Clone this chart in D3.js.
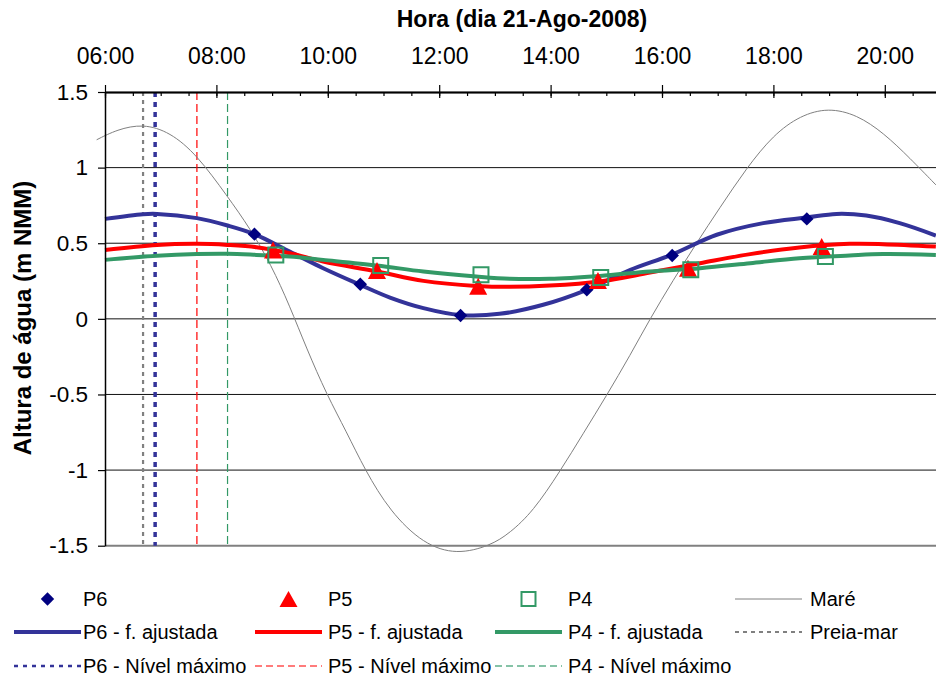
<!DOCTYPE html>
<html><head><meta charset="utf-8">
<script src="https://cdn.jsdelivr.net/npm/d3@7"></script>
<style>
body{margin:0;background:#fff}
svg{display:block;font-family:Arial,"Liberation Sans",sans-serif}
</style>
</head><body>
<svg id="chart" width="936" height="682"></svg>
<script>
// ---------------- data ----------------
const xTickLabels = ["06:00","08:00","10:00","12:00","14:00","16:00","18:00","20:00"];
const yTickValues = [1.5, 1, 0.5, 0, -0.5, -1, -1.5];
const yGridValues = [1, 0.5, 0, -0.5, -1];

// observed points
const p6Times = ["08:41","10:35","12:23","14:39","16:11","18:36"];
const p6Values = [0.560, 0.229, 0.022, 0.192, 0.419, 0.661];
const p5Times = ["09:01","10:53","12:42","14:51","16:28","18:52"];
const p5Values = [0.456, 0.320, 0.216, 0.253, 0.335, 0.478];
const p4Times = ["09:04","10:57","12:45","14:54","16:31","18:56"];
const p4Values = [0.423, 0.353, 0.291, 0.273, 0.324, 0.412];

// fitted curves
const p6FitTimes = ["06:00","06:41","06:56","07:39","08:12","08:41","09:19","09:55","10:35","11:07","11:43","12:22","13:05","13:52","14:39","15:26","16:10","16:59","17:49","18:36","19:08","19:40","20:16","20:55"];
const p6FitValues = [0.661,0.692,0.694,0.666,0.617,0.560,0.445,0.335,0.225,0.141,0.071,0.026,0.033,0.093,0.192,0.324,0.423,0.556,0.633,0.670,0.694,0.683,0.633,0.551];
const p45FitTimes = ["06:00","06:56","07:39","08:12","08:43","09:19","09:55","10:53","11:43","12:40","13:16","13:59","14:53","15:47","16:41","17:35","18:28","19:22","19:58","20:55"];
const p5FitValues = [0.456,0.489,0.496,0.489,0.474,0.434,0.379,0.313,0.251,0.218,0.212,0.220,0.247,0.306,0.368,0.428,0.472,0.496,0.494,0.478];
const p4FitValues = [0.390,0.417,0.428,0.430,0.423,0.412,0.390,0.353,0.313,0.280,0.265,0.265,0.284,0.313,0.335,0.368,0.401,0.419,0.428,0.423];

// tide (Maré)
const mareTimes = ["05:51","06:13","06:41","07:10","07:39","08:12","08:36","08:59","09:19","09:37","09:59","10:20","10:40","11:07","11:43","12:19","12:55","13:16","13:41","14:10","14:35","15:00","15:26","15:47","16:12","16:37","17:02","17:31","18:00","18:29","18:59","19:30","19:59","20:27","20:55"];
const mareValues = [1.184,1.252,1.290,1.235,1.085,0.809,0.600,0.357,0.085,-0.194,-0.503,-0.745,-0.999,-1.274,-1.490,-1.560,-1.500,-1.417,-1.274,-1.010,-0.760,-0.510,-0.238,0.000,0.255,0.500,0.732,0.997,1.217,1.345,1.396,1.350,1.228,1.063,0.886];

// vertical reference times
const preiaMarTime = "06:41";
const p6MaxTime = "06:54";
const p5MaxTime = "07:39";
const p4MaxTime = "08:12";

const legendLabels = ["P6","P5","P4","Maré","P6 - f. ajustada","P5 - f. ajustada","P4 - f. ajustada","Preia-mar","P6 - Nível máximo","P5 - Nível máximo","P4 - Nível máximo"];

// ---------------- drawing ----------------
const parse = d3.timeParse("%Y-%m-%d %H:%M");
const T = s => parse("2008-08-21 " + s);

const svg = d3.select("#chart");
const L = 105, R = 940.5, TOP = 92, BOT = 545.7;
const x = d3.scaleTime().domain([T("06:00"), T("21:00")]).range([L, R]);
const y = d3.scaleLinear().domain([-1.5, 1.5]).range([BOT, TOP]);

const C = {p6line:"#333399", p6mark:"#000080", red:"#ff0000", green:"#339966", gray:"#808080"};
const FONT = "Arial, 'Liberation Sans', sans-serif";

// gridlines
svg.append("g").selectAll("line").data(yGridValues).join("line")
  .attr("x1", L).attr("x2", 936).attr("y1", d => y(d)).attr("y2", d => y(d))
  .attr("stroke", "#111").attr("stroke-width", 1);
// bottom border
svg.append("line").attr("x1", L).attr("x2", 936).attr("y1", y(-1.5)).attr("y2", y(-1.5))
  .attr("stroke", C.gray).attr("stroke-width", 2);

// vertical reference lines
const vlines = [
  {t: preiaMarTime, c: C.gray, w: 2.2, d: "4,4"},
  {t: p6MaxTime, c: C.p6line, w: 3.5, d: "5,5"},
  {t: p5MaxTime, c: C.red, w: 1.2, d: "8,4"},
  {t: p4MaxTime, c: C.green, w: 1.2, d: "8,4"}
];
svg.append("g").selectAll("line").data(vlines).join("line")
  .attr("x1", d => x(T(d.t))).attr("x2", d => x(T(d.t)))
  .attr("y1", y(1.5)).attr("y2", y(-1.5))
  .attr("stroke", d => d.c).attr("stroke-width", d => d.w).attr("stroke-dasharray", d => d.d);

// tide
const mare = mareTimes.map((t, i) => ({t: T(t), v: mareValues[i]}));
const mareGen = d3.line().x(d => x(d.t)).y(d => y(d.v)).curve(d3.curveBasis);
svg.append("path").datum(mare).attr("d", mareGen)
  .attr("fill", "none").attr("stroke", C.gray).attr("stroke-width", 1);

// fitted curves
const lineGen = d3.line().x(d => x(d.t)).y(d => y(d.v)).curve(d3.curveCatmullRom.alpha(0.5));
const fits = [
  {times: p6FitTimes, vals: p6FitValues, c: C.p6line},
  {times: p45FitTimes, vals: p5FitValues, c: C.red},
  {times: p45FitTimes, vals: p4FitValues, c: C.green}
];
fits.forEach(f => {
  svg.append("path").datum(f.times.map((t, i) => ({t: T(t), v: f.vals[i]})))
    .attr("d", lineGen).attr("fill", "none").attr("stroke", f.c)
    .attr("stroke-width", 4).attr("stroke-linejoin", "round");
});

// marker shapes
const diamondPath = d3.symbol().type(d3.symbolSquare).size(90)();
const triPath = (w, h) => `M0,${-h/2}L${w/2},${h/2}L${-w/2},${h/2}Z`;
const squarePath = d3.symbol().type(d3.symbolSquare).size(225)();

svg.append("g").selectAll("path").data(p6Times.map((t, i) => ({t: T(t), v: p6Values[i]}))).join("path")
  .attr("d", diamondPath)
  .attr("transform", d => `translate(${x(d.t)},${y(d.v)}) rotate(45)`)
  .attr("fill", C.p6mark);
svg.append("g").selectAll("path").data(p5Times.map((t, i) => ({t: T(t), v: p5Values[i]}))).join("path")
  .attr("d", triPath(18, 17))
  .attr("transform", d => `translate(${x(d.t)},${y(d.v)})`)
  .attr("fill", C.red);
svg.append("g").selectAll("path").data(p4Times.map((t, i) => ({t: T(t), v: p4Values[i]}))).join("path")
  .attr("d", squarePath)
  .attr("transform", d => `translate(${x(d.t)},${y(d.v)})`)
  .attr("fill", "none").attr("stroke", C.green).attr("stroke-width", 2);

// axes
const majorDates = xTickLabels.map(T);
const fmt = d3.timeFormat("%H:%M");
const xMinor = d3.axisTop(x).ticks(d3.timeMinute.every(30)).tickSizeInner(-4).tickSizeOuter(0).tickFormat("");
const xMajorDown = d3.axisTop(x).tickValues(majorDates).tickSizeInner(-6).tickSizeOuter(0).tickFormat("");
const xMajor = d3.axisTop(x).tickValues(majorDates).tickSizeInner(7).tickSizeOuter(0).tickPadding(21).tickFormat(fmt);
[xMinor, xMajorDown, xMajor].forEach(a => {
  const g = svg.append("g").attr("transform", `translate(0,${TOP})`).call(a);
  g.select(".domain").attr("stroke", "#000").attr("stroke-width", 1.5);
  g.selectAll(".tick line").attr("stroke", "#000").attr("stroke-width", 1.2);
  g.selectAll("text").attr("font-size", 23).attr("fill", "#000").attr("font-family", FONT);
});

const yAxis = d3.axisLeft(y).tickValues(yTickValues).tickSizeInner(7).tickSizeOuter(0).tickPadding(10).tickFormat(d => String(d));
const gy = svg.append("g").attr("transform", `translate(${L},0)`).call(yAxis);
gy.select(".domain").attr("stroke", "#000").attr("stroke-width", 1.5);
gy.selectAll(".tick line").attr("stroke", "#000").attr("stroke-width", 1.2);
gy.selectAll("text").attr("font-size", 22.5).attr("fill", "#000").attr("font-family", FONT);

// titles
svg.append("text").attr("x", 522).attr("y", 27).attr("text-anchor", "middle")
  .attr("font-size", 23).attr("font-weight", "bold").text("Hora (dia 21-Ago-2008)");
svg.append("text").attr("transform", "translate(31,318) rotate(-90)").attr("text-anchor", "middle")
  .attr("font-size", 24).attr("font-weight", "bold").text("Altura de água (m NMM)");

// legend
const colLine = [14, 255, 495, 735];
const colText = [83, 328, 568, 810];
const rowY = [599, 632, 666];
const lineLen = 67;
const leg = svg.append("g").attr("font-size", 20);
const legendItems = [
  {r:0,c:0,type:"diamond"},{r:0,c:1,type:"tri"},{r:0,c:2,type:"square"},{r:0,c:3,type:"line",stroke:C.gray,w:1},
  {r:1,c:0,type:"line",stroke:C.p6line,w:4},{r:1,c:1,type:"line",stroke:C.red,w:4},{r:1,c:2,type:"line",stroke:C.green,w:4},{r:1,c:3,type:"line",stroke:C.gray,w:2,d:"4,4"},
  {r:2,c:0,type:"line",stroke:C.p6line,w:2.5,d:"4,5"},{r:2,c:1,type:"line",stroke:"#ff5050",w:1.3,d:"7,4"},{r:2,c:2,type:"line",stroke:"#5fb08a",w:1.3,d:"7,4"}
];
legendItems.forEach((it, i) => {
  const x0 = colLine[it.c], yy = rowY[it.r], cx = x0 + lineLen / 2;
  if (it.type === "line") {
    leg.append("line").attr("x1", x0).attr("x2", x0 + lineLen).attr("y1", yy).attr("y2", yy)
      .attr("stroke", it.stroke).attr("stroke-width", it.w).attr("stroke-dasharray", it.d || null);
  } else if (it.type === "diamond") {
    leg.append("path").attr("d", diamondPath).attr("transform", `translate(${cx},${yy}) rotate(45)`).attr("fill", C.p6mark);
  } else if (it.type === "tri") {
    leg.append("path").attr("d", triPath(18, 16)).attr("transform", `translate(${cx},${yy})`).attr("fill", C.red);
  } else {
    leg.append("path").attr("d", d3.symbol().type(d3.symbolSquare).size(196)()).attr("transform", `translate(${cx},${yy})`)
      .attr("fill", "none").attr("stroke", C.green).attr("stroke-width", 2);
  }
  leg.append("text").attr("x", colText[it.c]).attr("y", yy).attr("dy", "0.36em").text(legendLabels[i]);
});
</script>
</body></html>
